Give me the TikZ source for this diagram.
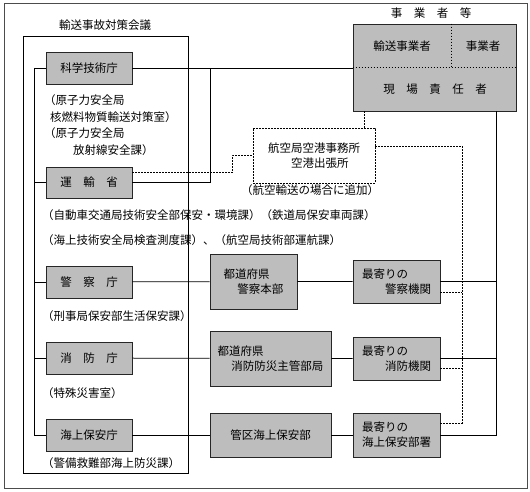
\documentclass[tikz,border=0pt]{standalone}
\usepackage{fontspec}
\setmainfont{Noto Sans CJK JP}
\usetikzlibrary{positioning}
\tikzset{
  office/.style={draw=black!85, line width=0.9pt, fill=gray!52, inner sep=0pt, font=\fontsize{11.5}{15}\selectfont},
  notes/.style={anchor=west, inner sep=0pt, font=\fontsize{11.5}{13}\selectfont},
  dots/.style={dash pattern=on 1.6pt off 1.4pt, line width=0.7pt},
  link/.style={line width=0.75pt}
}

\begin{document}
\begin{tikzpicture}[x=1pt, y=-1pt]
  \useasboundingbox (0,0) rectangle (530,492);
%% frames
  \draw[line width=0.9pt, black!70] (4,3) rectangle (527,488);
  \draw[link] (23,36) rectangle (188,473);
  \node[inner sep=0pt, font=\fontsize{11.5}{13}\selectfont] (council) at (105,25) {輸送事故対策会議};
%% left column
  \node[office, minimum width=86, minimum height=32] (kagaku) at (89,68) {科学技術庁};
  \node[office, minimum width=86, minimum height=31] (unyu) at (89,182.5) {運\quad 輸\quad 省};
  \node[office, minimum width=86, minimum height=32] (keisatsu) at (89,282) {警\quad 察\quad 庁};
  \node[office, minimum width=86, minimum height=32] (shobo) at (89,358) {消\quad 防\quad 庁};
  \node[office, minimum width=86, minimum height=32] (kaiho) at (89,435) {海上保安庁};
  \node[notes] (n1) at (44,100) {（原子力安全局};
  \node[notes] (n2) at (50,117) {核燃料物質輸送対策室）};
  \node[notes] (n3) at (44,133) {（原子力安全局};
  \node[notes] (n4) at (73,150) {放射線安全課）};
  \node[notes] (n5) at (42,215) {（自動車交通局技術安全部保安・環境課）（鉄道局保安車両課）};
  \node[notes] (n6) at (42,240) {（海上技術安全局検査測度課）、（航空局技術部運航課）};
  \node[notes] (n7) at (42,316) {（刑事局保安部生活保安課）};
  \node[notes] (n8) at (42,393) {（特殊災害室）};
  \node[notes] (n9) at (42,463) {（警備救難部海上防災課）};
%% middle and right columns
  \node[office, minimum width=87, minimum height=55, align=left] (ppol) at (253.5,281.5) {都道府県\\\hspace*{1.2em}警察本部};
  \node[office, minimum width=121, minimum height=55, align=left] (pfire) at (270.5,358.5) {都道府県\\\hspace*{1.2em}消防防災主管部局};
  \node[office, minimum width=121, minimum height=44] (kanku) at (270.5,435) {管区海上保安部};
  \node[office, minimum width=87, minimum height=43, align=left] (npol) at (396.5,281.5) {最寄りの\\\hspace*{2em}警察機関};
  \node[office, minimum width=87, minimum height=43, align=left] (nfire) at (396.5,358.5) {最寄りの\\\hspace*{2em}消防機関};
  \node[office, minimum width=87, minimum height=44, align=left] (ncoast) at (396.5,435) {最寄りの\\海上保安部署};
%% operators
  \node[inner sep=0pt, font=\fontsize{11.5}{13}\selectfont] (opshead) at (431,13) {事\quad 業\quad 者\quad 等};
  \node[office, minimum width=163, minimum height=87] (jigyo) at (434.5,67.5) {};
  \draw[dots] (jigyo.west) -- (jigyo.east);
  \draw[dots] ([xshift=16.5pt]jigyo.north) -- ([xshift=16.5pt]jigyo.center);
  \node[inner sep=0pt, font=\fontsize{11.5}{13}\selectfont] (yuso) at (402,46) {輸送事業者};
  \node[inner sep=0pt, font=\fontsize{11.5}{13}\selectfont] (jgs) at (483,46) {事業者};
  \node[inner sep=0pt, font=\fontsize{11.5}{13}\selectfont] (genba) at (435,89) {現\quad 場\quad 責\quad 任\quad 者};
%% airport office
  \node[draw, dots, minimum width=122, minimum height=55, align=left, inner sep=0pt, font=\fontsize{11.5}{15}\selectfont] (air) at (314,155.5) {航空局空港事務所\\\hspace*{2em}空港出張所};
  \node[inner sep=0pt, font=\fontsize{11.5}{13}\selectfont] (airnote) at (310,190) {（航空輸送の場合に追加）};
%% connectors
  \coordinate (lv) at (34,0);
  \coordinate (rv) at (496,435);
  \coordinate (dv) at (462,423);
  \coordinate (tap) at (210,68);
  \draw[link] (kagaku.west -| lv) -- (kaiho.west -| lv);
  \foreach \b in {kagaku, unyu, keisatsu, shobo, kaiho}
    \draw[link] (\b.west) -- (\b.west -| lv);
  \draw[link] (kagaku.east) -- (kagaku.east -| jigyo.west);
  \draw[link] (unyu.east) -| (tap);
  \draw[link] (keisatsu) -- (ppol) -- (npol);
  \draw[link] (shobo) -- (pfire) -- (nfire);
  \draw[link] (kaiho) -- (kanku) -- (ncoast);
  \draw[link] (jigyo.south -| rv) -- (rv) -- (ncoast.east);
  \draw[link] (npol.east) -- (npol.east -| rv);
  \draw[link] (nfire.east) -- (nfire.east -| rv);
  \draw[dots] ([yshift=10pt]unyu.east) -- ++(100,0) |- (air.west);
  \draw[dots] ([xshift=50pt]air.north) -- ([xshift=50pt]air.north |- jigyo.south);
  \draw[dots] ([yshift=9.5pt]air.east) -| (dv) -- ([yshift=12pt]ncoast.east);
  \draw[dots] ([yshift=-10.5pt]npol.east) -- ([yshift=-10.5pt]npol.east -| dv);
  \draw[dots] ([yshift=-9.5pt]nfire.east) -- ([yshift=-9.5pt]nfire.east -| dv);
\end{tikzpicture}
\end{document}
